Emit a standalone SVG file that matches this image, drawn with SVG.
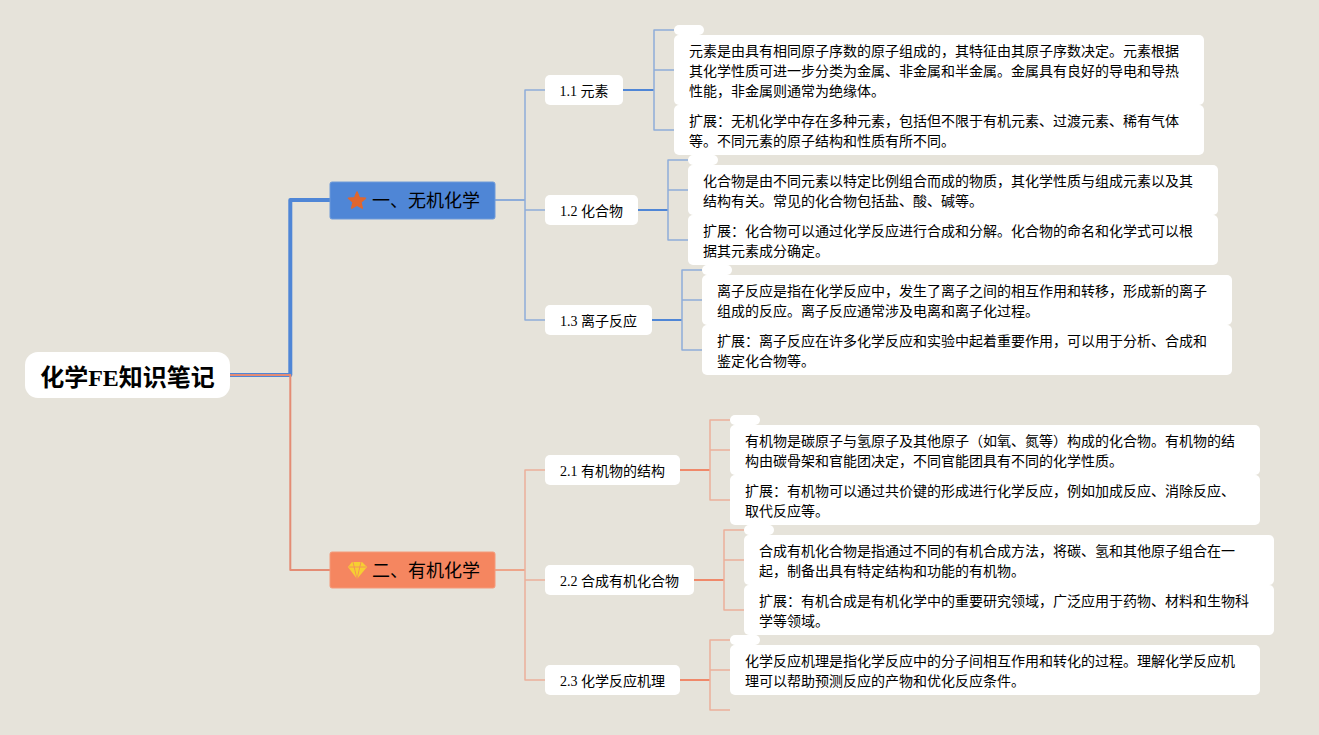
<svg xmlns="http://www.w3.org/2000/svg" width="1319" height="735" viewBox="0 0 1319 735">
<style>
text{font-family:"Liberation Serif","Noto Sans CJK SC",serif;fill:#000}
.w{fill:#fff}
.t{font-size:14px}
.s{font-size:14px;text-anchor:middle}
.h{font-size:18px}
.r{font-size:24px;font-weight:700;text-anchor:middle}
path{fill:none;stroke-linejoin:round}
.bm{stroke:#4f86d6;stroke-width:2}
.bl{stroke:#8fadd9;stroke-width:1.5}
.om{stroke:#f0896a;stroke-width:2}
.ol{stroke:#ecb09a;stroke-width:1.5}
</style>
<rect width="1319" height="735" fill="#e6e3da"/>
<g id="connectors">
<path d="M230 375H290.300V200H330" stroke="#4f86d6" stroke-width="4"/>
<path d="M230 375H290.300V570H330" stroke="#e48c74" stroke-width="2"/>
<path d="M495 200H525" stroke="#6f9ad9" stroke-width="1.500"/>
<path class="bl" d="M545 90H525V320H545M525 210H545"/>
<path class="bm" d="M623 90H654"/><path class="bl" d="M674 30H654V130H674M654 70H674"/>
<path class="bm" d="M638 210H668"/><path class="bl" d="M688 160H668V240H688M668 190H688"/>
<path class="bm" d="M652 320H682"/><path class="bl" d="M702 270H682V350H702M682 300H702"/>
<path d="M495 570H525" stroke="#f0916f" stroke-width="1.500"/>
<path class="ol" d="M545 470H525V680H545M525 580H545"/>
<path class="om" d="M680 470H710"/><path class="ol" d="M730 420H710V500H730M710 450H730"/>
<path class="om" d="M694 580H724"/><path class="ol" d="M744 530H724V610H744M724 560H744"/>
<path class="om" d="M680 680H710"/><path class="ol" d="M730 640H710V710H730M710 670H730"/>
</g>
<g id="root"><rect class="w" x="25" y="352" width="205" height="46" rx="13"/><text class="r" x="127.500" y="386">化学FE知识笔记</text></g>
<g id="topic1"><rect x="330" y="182" width="165" height="37" rx="2" fill="#4f86d6" stroke="#6f9ad9"/>
<polygon points="357,192 359.400,197.700 365.500,198.200 360.900,202.200 362.300,208.200 357,205 351.700,208.200 353.100,202.200 348.500,198.200 354.600,197.700" fill="#e0662f" stroke="#e0662f" stroke-width="1.500" stroke-linejoin="round"/>
<text class="h" x="372" y="207">一、无机化学</text></g>
<g id="topic2"><rect x="330" y="552" width="165" height="36" rx="2" fill="#f58660" stroke="#f49a7a"/>
<polygon points="352,562 362,562 367,567 357,579 348,567" fill="#f6cf32"/>
<path d="M349 567H366M353 562L357 579L361 562" stroke="#f58660" stroke-width=".8"/>
<text class="h" x="372" y="577">二、有机化学</text></g>
<g id="n11"><rect class="w" x="545" y="75" width="78" height="30" rx="5"/><text class="s" x="584" y="96">1.1 元素</text></g>
<g id="n12"><rect class="w" x="545" y="195" width="93" height="30" rx="5"/><text class="s" x="591.500" y="216">1.2 化合物</text></g>
<g id="n13"><rect class="w" x="545" y="305" width="107" height="30" rx="5"/><text class="s" x="598.500" y="326">1.3 离子反应</text></g>
<g id="n21"><rect class="w" x="545" y="455" width="135" height="30" rx="5"/><text class="s" x="612.500" y="476">2.1 有机物的结构</text></g>
<g id="n22"><rect class="w" x="545" y="565" width="149" height="30" rx="5"/><text class="s" x="619.500" y="586">2.2 合成有机化合物</text></g>
<g id="n23"><rect class="w" x="545" y="665" width="135" height="30" rx="5"/><text class="s" x="612.500" y="686">2.3 化学反应机理</text></g>
<g id="e11"><rect class="w" x="674" y="25" width="30" height="10" rx="5"/></g>
<g id="d11a"><rect class="w" x="674" y="35" width="530" height="70" rx="5"/><text class="t" x="689" y="56">元素是由具有相同原子序数的原子组成的，其特征由其原子序数决定。元素根据</text><text class="t" x="689" y="76">其化学性质可进一步分类为金属、非金属和半金属。金属具有良好的导电和导热</text><text class="t" x="689" y="96">性能，非金属则通常为绝缘体。</text></g>
<g id="d11b"><rect class="w" x="674" y="105" width="530" height="50" rx="5"/><text class="t" x="689" y="126">扩展：无机化学中存在多种元素，包括但不限于有机元素、过渡元素、稀有气体</text><text class="t" x="689" y="146">等。不同元素的原子结构和性质有所不同。</text></g>
<g id="e12"><rect class="w" x="688" y="155" width="30" height="10" rx="5"/></g>
<g id="d12a"><rect class="w" x="688" y="165" width="530" height="50" rx="5"/><text class="t" x="703" y="186">化合物是由不同元素以特定比例组合而成的物质，其化学性质与组成元素以及其</text><text class="t" x="703" y="206">结构有关。常见的化合物包括盐、酸、碱等。</text></g>
<g id="d12b"><rect class="w" x="688" y="215" width="530" height="50" rx="5"/><text class="t" x="703" y="236">扩展：化合物可以通过化学反应进行合成和分解。化合物的命名和化学式可以根</text><text class="t" x="703" y="256">据其元素成分确定。</text></g>
<g id="e13"><rect class="w" x="702" y="265" width="30" height="10" rx="5"/></g>
<g id="d13a"><rect class="w" x="702" y="275" width="530" height="50" rx="5"/><text class="t" x="717" y="296">离子反应是指在化学反应中，发生了离子之间的相互作用和转移，形成新的离子</text><text class="t" x="717" y="316">组成的反应。离子反应通常涉及电离和离子化过程。</text></g>
<g id="d13b"><rect class="w" x="702" y="325" width="530" height="50" rx="5"/><text class="t" x="717" y="346">扩展：离子反应在许多化学反应和实验中起着重要作用，可以用于分析、合成和</text><text class="t" x="717" y="366">鉴定化合物等。</text></g>
<g id="e21"><rect class="w" x="730" y="415" width="30" height="10" rx="5"/></g>
<g id="d21a"><rect class="w" x="730" y="425" width="530" height="50" rx="5"/><text class="t" x="745" y="446">有机物是碳原子与氢原子及其他原子（如氧、氮等）构成的化合物。有机物的结</text><text class="t" x="745" y="466">构由碳骨架和官能团决定，不同官能团具有不同的化学性质。</text></g>
<g id="d21b"><rect class="w" x="730" y="475" width="530" height="50" rx="5"/><text class="t" x="745" y="496">扩展：有机物可以通过共价键的形成进行化学反应，例如加成反应、消除反应、</text><text class="t" x="745" y="516">取代反应等。</text></g>
<g id="e22"><rect class="w" x="744" y="525" width="30" height="10" rx="5"/></g>
<g id="d22a"><rect class="w" x="744" y="535" width="530" height="50" rx="5"/><text class="t" x="759" y="556">合成有机化合物是指通过不同的有机合成方法，将碳、氢和其他原子组合在一</text><text class="t" x="759" y="576">起，制备出具有特定结构和功能的有机物。</text></g>
<g id="d22b"><rect class="w" x="744" y="585" width="530" height="50" rx="5"/><text class="t" x="759" y="606">扩展：有机合成是有机化学中的重要研究领域，广泛应用于药物、材料和生物科</text><text class="t" x="759" y="626">学等领域。</text></g>
<g id="e23"><rect class="w" x="730" y="635" width="30" height="10" rx="5"/></g>
<g id="d23a"><rect class="w" x="730" y="645" width="530" height="50" rx="5"/><text class="t" x="745" y="666">化学反应机理是指化学反应中的分子间相互作用和转化的过程。理解化学反应机</text><text class="t" x="745" y="686">理可以帮助预测反应的产物和优化反应条件。</text></g>
</svg>
